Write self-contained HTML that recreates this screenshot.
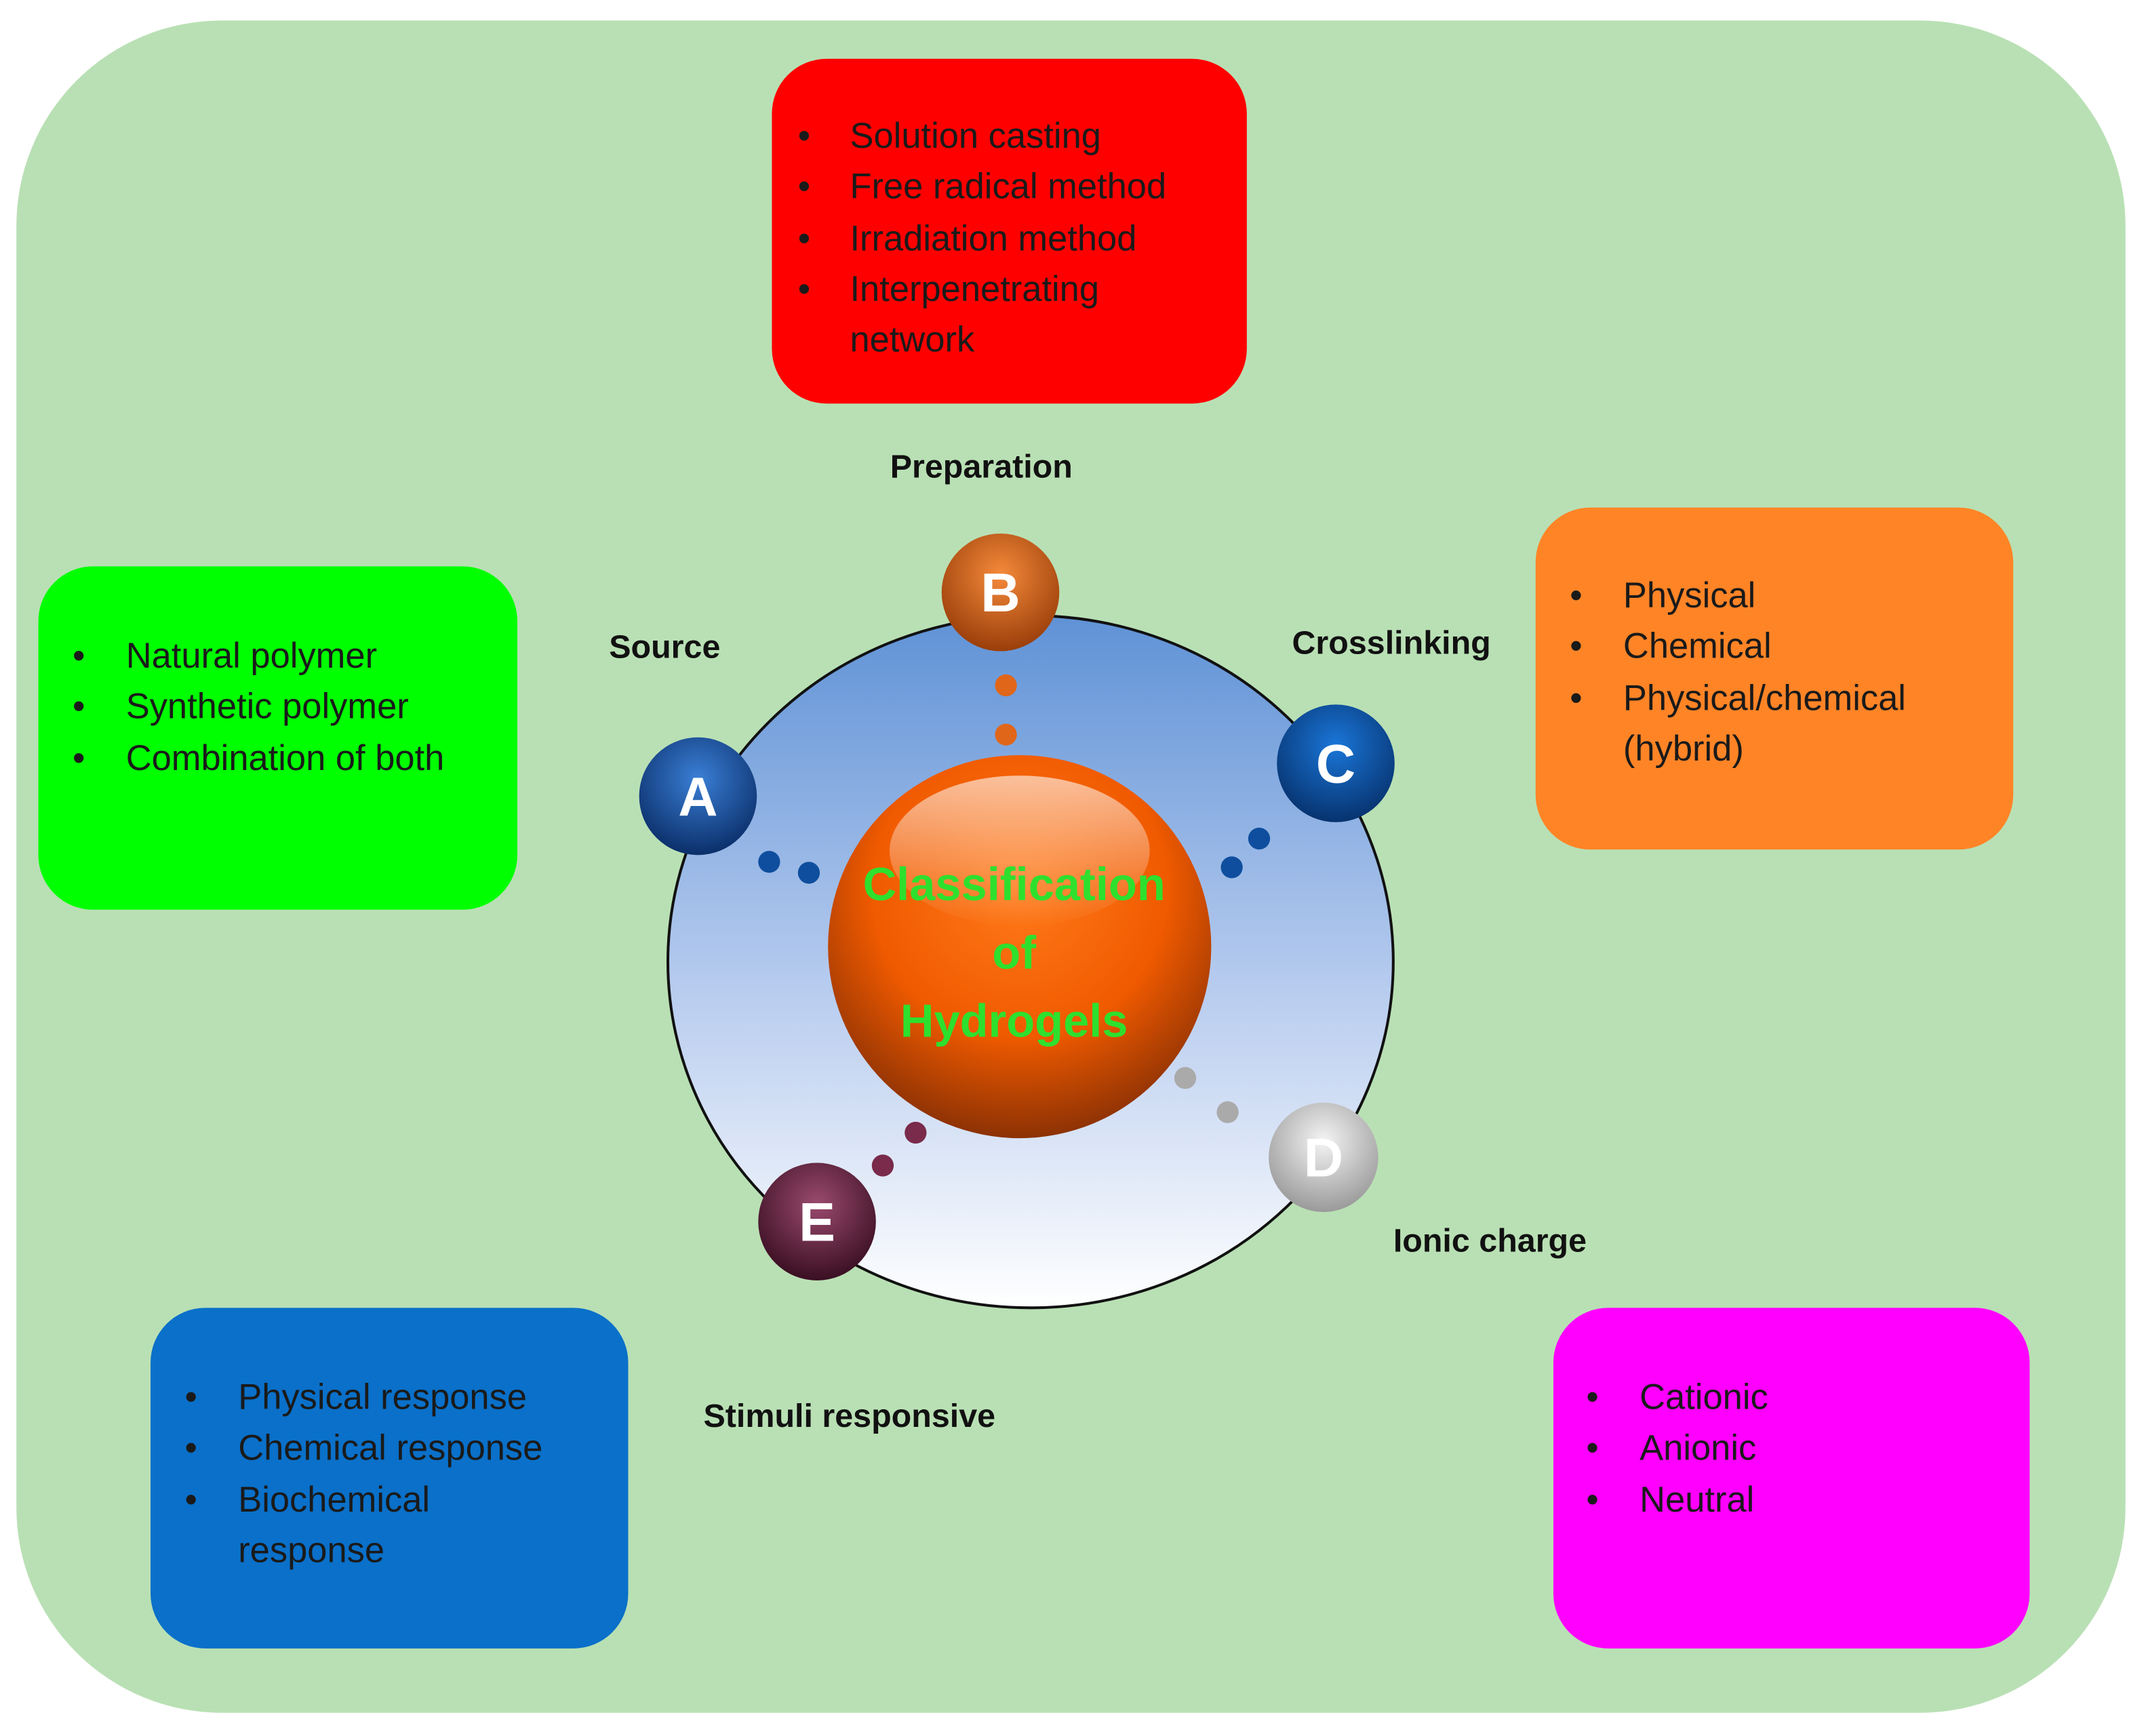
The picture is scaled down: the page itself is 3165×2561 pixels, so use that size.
<!DOCTYPE html>
<html><head><meta charset="utf-8">
<style>
html,body{margin:0;padding:0;background:#fff;}
svg{display:block;}
text{font-family:"Liberation Sans",sans-serif;}
</style></head>
<body>
<svg width="3165" height="2561" viewBox="0 0 1568 1269" preserveAspectRatio="none" xmlns="http://www.w3.org/2000/svg">
<defs>
<linearGradient id="ring" x1="0" y1="0" x2="0" y2="1">
<stop offset="0" stop-color="#5f92d6"/><stop offset="0.55" stop-color="#b9cdef"/><stop offset="1" stop-color="#ffffff"/>
</linearGradient>
<radialGradient id="core" cx="0.5" cy="0.35" r="0.7">
<stop offset="0" stop-color="#ff7a1a"/><stop offset="0.55" stop-color="#f05a00"/><stop offset="1" stop-color="#7a2a05"/>
</radialGradient>
<linearGradient id="hl" x1="0" y1="0" x2="0" y2="1">
<stop offset="0" stop-color="#fff" stop-opacity="0.6"/><stop offset="1" stop-color="#fff" stop-opacity="0"/>
</linearGradient>
<radialGradient id="gA" cx="0.5" cy="0.35" r="0.65"><stop offset="0" stop-color="#3a7fd6"/><stop offset="1" stop-color="#0b2f6a"/></radialGradient>
<radialGradient id="gB" cx="0.5" cy="0.35" r="0.65"><stop offset="0" stop-color="#f58a3a"/><stop offset="1" stop-color="#9a3e0a"/></radialGradient>
<radialGradient id="gC" cx="0.5" cy="0.35" r="0.65"><stop offset="0" stop-color="#1a76d8"/><stop offset="1" stop-color="#07336f"/></radialGradient>
<radialGradient id="gD" cx="0.5" cy="0.35" r="0.65"><stop offset="0" stop-color="#f4f4f4"/><stop offset="1" stop-color="#9a9a9a"/></radialGradient>
<radialGradient id="gE" cx="0.5" cy="0.35" r="0.65"><stop offset="0" stop-color="#9a4a6e"/><stop offset="1" stop-color="#3a0f22"/></radialGradient>
</defs>
<rect x="12" y="15" width="1541" height="1237" rx="150" fill="#b9e0b4"/>

<rect x="564" y="43" width="347" height="252" rx="40" fill="#ff0000"/>
<g font-size="26" fill="#1a1a1a">
<text x="583" y="108">•</text><text x="621" y="108">Solution casting</text>
<text x="583" y="145">•</text><text x="621" y="145">Free radical method</text>
<text x="583" y="183">•</text><text x="621" y="183">Irradiation method</text>
<text x="583" y="220">•</text><text x="621" y="220">Interpenetrating</text>
<text x="621" y="257">network</text>
</g>

<rect x="28" y="414" width="350" height="251" rx="40" fill="#00ff00"/>
<g font-size="26" fill="#1a1a1a">
<text x="53" y="488">•</text><text x="92" y="488">Natural polymer</text>
<text x="53" y="525">•</text><text x="92" y="525">Synthetic polymer</text>
<text x="53" y="563">•</text><text x="92" y="563">Combination of both</text>
</g>

<rect x="1122" y="371" width="349" height="250" rx="40" fill="#ff8426"/>
<g font-size="26" fill="#1a1a1a">
<text x="1147" y="444">•</text><text x="1186" y="444">Physical</text>
<text x="1147" y="481">•</text><text x="1186" y="481">Chemical</text>
<text x="1147" y="519">•</text><text x="1186" y="519">Physical/chemical</text>
<text x="1186" y="556">(hybrid)</text>
</g>

<rect x="110" y="956" width="349" height="249" rx="40" fill="#0a70c9"/>
<g font-size="26" fill="#1a1a1a">
<text x="135" y="1030">•</text><text x="174" y="1030">Physical response</text>
<text x="135" y="1067">•</text><text x="174" y="1067">Chemical response</text>
<text x="135" y="1105">•</text><text x="174" y="1105">Biochemical</text>
<text x="174" y="1142">response</text>
</g>

<rect x="1135" y="956" width="348" height="249" rx="40" fill="#ff00ff"/>
<g font-size="26" fill="#1a1a1a">
<text x="1159" y="1030">•</text><text x="1198" y="1030">Cationic</text>
<text x="1159" y="1067">•</text><text x="1198" y="1067">Anionic</text>
<text x="1159" y="1105">•</text><text x="1198" y="1105">Neutral</text>
</g>

<g font-size="24" font-weight="bold" fill="#111">
<text x="717" y="349" text-anchor="middle">Preparation</text>
<text x="445" y="481">Source</text>
<text x="944" y="478">Crosslinking</text>
<text x="514" y="1043">Stimuli responsive</text>
<text x="1018" y="915">Ionic charge</text>
</g>

<ellipse cx="753" cy="703" rx="265" ry="253" fill="url(#ring)" stroke="#111" stroke-width="2"/>
<circle cx="745" cy="692" r="140" fill="url(#core)"/>
<ellipse cx="745" cy="622" rx="95" ry="55" fill="url(#hl)"/>
<g font-size="34" font-weight="bold" fill="#2ee02e" text-anchor="middle">
<text x="741" y="658">Classification</text>
<text x="741" y="708">of</text>
<text x="741" y="758">Hydrogels</text>
</g>

<circle cx="735" cy="501" r="8" fill="#e0661a"/><circle cx="735" cy="537" r="8" fill="#e0661a"/>
<circle cx="562" cy="630" r="8" fill="#0f4e9e"/><circle cx="591" cy="638" r="8" fill="#0f4e9e"/>
<circle cx="920" cy="613" r="8" fill="#0f4e9e"/><circle cx="900" cy="634" r="8" fill="#0f4e9e"/>
<circle cx="866" cy="788" r="8" fill="#aaaaaa"/><circle cx="897" cy="813" r="8" fill="#aaaaaa"/>
<circle cx="669" cy="828" r="8" fill="#7a2a4a"/><circle cx="645" cy="852" r="8" fill="#7a2a4a"/>

<g font-size="40" font-weight="bold" fill="#fff" text-anchor="middle">
<circle cx="510" cy="582" r="43" fill="url(#gA)"/><text x="510" y="596">A</text>
<circle cx="731" cy="433" r="43" fill="url(#gB)"/><text x="731" y="447">B</text>
<circle cx="976" cy="558" r="43" fill="url(#gC)"/><text x="976" y="572">C</text>
<circle cx="967" cy="846" r="40" fill="url(#gD)"/><text x="967" y="860">D</text>
<circle cx="597" cy="893" r="43" fill="url(#gE)"/><text x="597" y="907">E</text>
</g>
</svg>
</body></html>
